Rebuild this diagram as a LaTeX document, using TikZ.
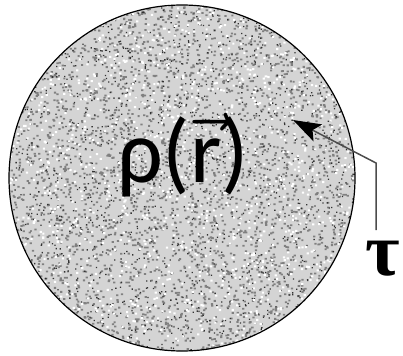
\documentclass[tikz,border=0pt]{standalone}
\usepackage{amsmath,graphicx}
\usepackage{fontspec}
\newfontfamily\rhofont{Carlito}
\newfontfamily\taufont{Liberation Serif}
\usetikzlibrary{arrows.meta}
\begin{document}
\begin{tikzpicture}[x=1pt,y=-1pt,
  connector/.style={draw=black!70,line width=1.5pt,-{Stealth[length=28pt,width=19pt,inset=6pt,black]}}]
\useasboundingbox (0,0) rectangle (403,355);
\coordinate (c) at (182,178);
\begin{scope}
  \clip (c) circle[radius=173];
  \fill[black!17] (c) circle[radius=173];
  \pgfmathsetseed{7}
  \fill[black!50] \foreach \i in {1,...,3400}{
    [/utils/exec={\pgfmathsetmacro{\xx}{9+rnd*347}\pgfmathsetmacro{\yy}{5+rnd*346}}]
    (\xx,\yy) rectangle ++(2.2,1.8)};
  \fill[black!80] \foreach \i in {1,...,1700}{
    [/utils/exec={\pgfmathsetmacro{\xx}{9+rnd*347}\pgfmathsetmacro{\yy}{5+rnd*346}}]
    (\xx,\yy) rectangle ++(1.3,1.3)};
  \fill[white] \foreach \i in {1,...,1400}{
    [/utils/exec={\pgfmathsetmacro{\xx}{9+rnd*347}\pgfmathsetmacro{\yy}{5+rnd*346}}]
    (\xx,\yy) rectangle ++(2.2,2)};
\end{scope}
\node[draw=black,line width=1.2pt,circle,minimum size=346pt,inner sep=0pt] (disk) at (c) {};
\node[inner sep=0pt] (rho) at (183,155) {\scalebox{9}{\rhofont ρ($\vec{\text{r}}$)}};
\node[inner sep=0pt] (tau) at (383,259) {\scalebox{7.5}{\taufont\bfseries τ}};
\coordinate (start) at (376,230);
\coordinate (bend) at (376,163);
\coordinate (tip) at (293,120);
\draw[connector] (start) -- (bend) -- (tip);
\end{tikzpicture}
\end{document}
